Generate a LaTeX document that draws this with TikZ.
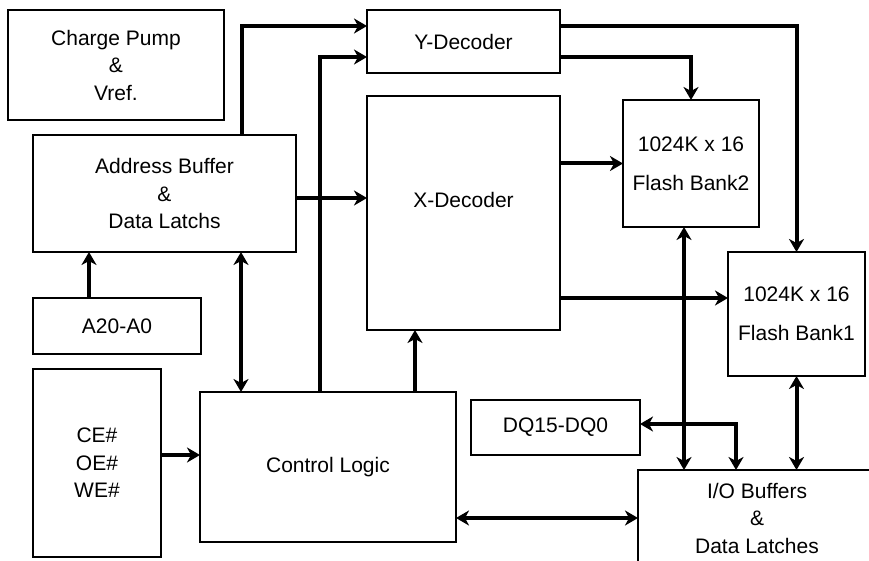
\documentclass[tikz,border=0pt]{standalone}
\usepackage{fontspec}
\setmainfont{Liberation Sans}
\usepackage{tikz}
\usetikzlibrary{arrows.meta}

\begin{document}
\begin{tikzpicture}[x=1pt,y=-1pt,
		block/.style={draw,line width=2pt,inner sep=0pt,outer sep=0pt,align=center,
			font=\fontsize{21}{27.5}\selectfont},
		bus/.style={line width=4pt,-{Stealth[length=13pt,width=15pt,inset=4pt]}},
		bibus/.style={line width=4pt,{Stealth[length=13pt,width=15pt,inset=4pt]}-{Stealth[length=13pt,width=15pt,inset=4pt]}}]
			\clip (0,0) rectangle (869,561);

			% blocks
			\node[block,minimum width=216pt,minimum height=110pt] (pump) at (116,65) {Charge Pump\\\&\\Vref.};
			\node[block,minimum width=263pt,minimum height=117pt] (addr) at (164.5,193.5) {Address Buffer\\\&\\Data Latchs};
			\node[block,minimum width=168pt,minimum height=56pt] (addrin) at (117,326) {A20-A0};
			\node[block,minimum width=128pt,minimum height=188pt] (ctlin) at (97,463) {CE\#\\OE\#\\WE\#};
			\node[block,minimum width=256pt,minimum height=150pt] (ctl) at (328,467) {Control Logic};
			\node[block,minimum width=193pt,minimum height=63pt] (ydec) at (463.5,41.5) {Y-Decoder};
			\node[block,minimum width=193pt,minimum height=234pt,
				label={[yshift=13pt,font=\fontsize{21}{27.5}\selectfont]center:X-Decoder}] (xdec) at (463.5,213) {};
			\node[block,minimum width=136pt,minimum height=127pt] (bank2) at (691,163.5) {1024K x 16\\[11.5pt]Flash Bank2};
			\node[block,minimum width=137pt,minimum height=124pt] (bank1) at (796.5,314) {1024K x 16\\[11.5pt]Flash Bank1};
			\node[block,minimum width=169pt,minimum height=55pt] (dq) at (555.5,427.5) {DQ15-DQ0};
			\node[block,minimum width=238pt,minimum height=96pt] (io) at (757,518) {I/O Buffers\\\&\\Data Latches};

			% address and control paths
			\draw[bus] (addr.north -| 242,0) |- (ydec.west |- 0,26);
			\draw[bus] (ctl.north -| 320,0) |- (ydec.west |- 0,57);
			\draw[bus] (addr.east |- 0,198) -- (xdec.west |- 0,198);
			\draw[bus] (addrin.north -| 89,0) -- (addr.south -| 89,0);
			\draw[bibus] (addr.south -| 241,0) -- (ctl.north -| 241,0);
			\draw[bus] (ctl.north -| 415,0) -- (xdec.south -| 415,0);
			\draw[bus] (ctlin.east |- 0,455) -- (ctl.west |- 0,455);

			% decoders to banks
			\draw[bus] (ydec.east |- 0,26) -| (bank1.north);
			\draw[bus] (ydec.east |- 0,57) -| (bank2.north);
			\draw[bus] (xdec.east |- bank2.west) -- (bank2.west);
			\draw[bus] (xdec.east |- 0,298) -- (bank1.west |- 0,298);

			% data paths
			\draw[bibus] (bank2.south -| 684,0) -- (io.north -| 684,0);
			\draw[bibus] (io.north -| 736,0) |- (dq.east |- 0,424);
			\draw[bibus] (bank1.south) -- (io.north -| bank1.south);
			\draw[bibus] (ctl.east |- io.west) -- (io.west);
		\end{tikzpicture}
\end{document}
